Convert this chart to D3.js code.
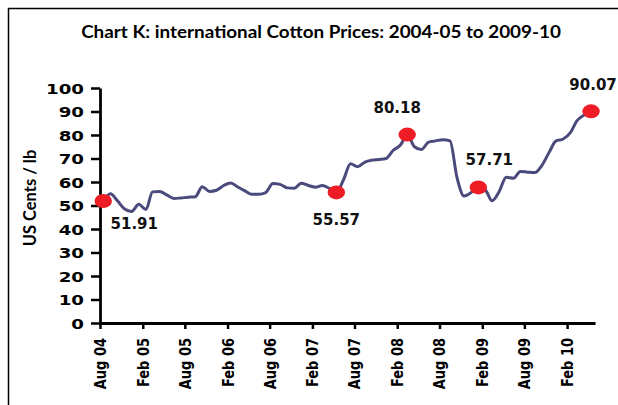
<!DOCTYPE html>
<html>
<head>
<meta charset="utf-8">
<script src="https://cdn.jsdelivr.net/npm/d3@7"></script>
<style>
  html, body { margin: 0; padding: 0; background: #fff; }
  svg { display: block; }
</style>
</head>
<body>
<svg id="chart" width="618" height="405"></svg>
<script>
// ---------------- data ----------------
const title = "Chart K: international Cotton Prices: 2004-05 to 2009-10";
const yAxisTitle = "US Cents / lb";
const startMonth = "Aug 04";   // first monthly observation
const prices = [
  51.91, 55.0, 52.0, 48.5, 47.5, 50.5, 48.3, 55.8, 56.0, 54.5, 53.0, 53.2,
  53.5, 53.7, 58.0, 56.0, 56.5, 58.5, 59.6, 58.0, 56.3, 54.8, 54.8, 55.5,
  59.4, 59.0, 57.5, 57.3, 59.5, 58.5, 57.8, 58.5, 57.3, 55.57, 61.0, 67.8,
  66.5, 68.5, 69.3, 69.6, 70.0, 73.5, 75.7, 80.18, 75.0, 73.8, 77.0, 77.5,
  78.0, 77.5, 62.0, 54.0, 55.5, 57.71, 56.5, 52.0, 56.0, 62.0, 61.6, 64.5,
  64.2, 64.0, 67.0, 72.5, 77.5, 78.3, 81.0, 86.0, 88.5, 90.07
];
const highlighted = [0, 33, 43, 53, 69];          // indices of marked points
const tickLabels = ["Aug 04","Feb 05","Aug 05","Feb 06","Aug 06","Feb 07",
                    "Aug 07","Feb 08","Aug 08","Feb 09","Aug 09","Feb 10"];
const axisEnd = "Jun 10";
const yTicks = [0,10,20,30,40,50,60,70,80,90,100];

// ---------------- layout ----------------
const labelOffsets = [[31, 28], [0, 33], [-10, -22], [11, -22], [2, -21]];
const parse = d3.timeParse("%b %y");
const t0 = parse(startMonth);
const dates = prices.map((_, i) => d3.timeDay.offset(d3.timeMonth.offset(t0, i), 14));

const svg = d3.select("#chart");

// frame
svg.append("rect").attr("x", 8.5).attr("y", 8.5).attr("width", 640).attr("height", 420)
  .attr("fill", "none").attr("stroke", "#000").attr("stroke-width", 1.5);

const x = d3.scaleTime().domain([t0, parse(axisEnd)]).range([100, 595]);
const y = d3.scaleLinear().domain([0, 100]).range([323, 88]);

// title
svg.append("text").attr("transform", "translate(321,38) scale(1.11,1)")
  .attr("text-anchor", "middle")
  .attr("font-family", "Lato, 'Open Sans', sans-serif").attr("font-weight", 700)
  .attr("font-size", 17).attr("fill", "#000").text(title);

// y axis title
svg.append("text").attr("transform", "translate(36,198) rotate(-90)")
  .attr("text-anchor", "middle")
  .attr("font-family", "Lato, 'Open Sans', sans-serif").attr("font-weight", 700)
  .attr("font-size", 16.5).attr("fill", "#000").text(yAxisTitle);

// y axis
const gy = svg.append("g").attr("transform", "translate(100,0)")
  .call(d3.axisLeft(y).tickValues(yTicks).tickSize(9).tickSizeOuter(0).tickPadding(7));
gy.select(".domain").attr("stroke-width", 2.8);
gy.selectAll(".tick line").attr("stroke-width", 2.5);
gy.selectAll(".tick text")
  .attr("font-family", "'DejaVu Sans', sans-serif").attr("font-weight", 700)
  .attr("font-size", 14).attr("fill", "#000")
  .attr("x", null).attr("dy", "0.36em")
  .attr("transform", "translate(-16,0) scale(1.3,1)");

// x axis
const gx = svg.append("g").attr("transform", "translate(0,323)")
  .call(d3.axisBottom(x).tickValues(tickLabels.map(parse)).tickSize(6).tickSizeOuter(0)
        .tickFormat(d3.timeFormat("%b %y")));
gx.select(".domain").attr("stroke-width", 2.8);
gx.selectAll(".tick line").attr("stroke-width", 2.5);
gx.selectAll(".tick text")
  .attr("font-family", "'DejaVu Sans', sans-serif").attr("font-weight", 700)
  .attr("font-size", 13).attr("fill", "#000")
  .attr("y", null).attr("dy", "0.35em")
  .attr("text-anchor", "end")
  .attr("transform", "translate(0,15) rotate(-90) scale(1,1.2)");

// line
const line = d3.line().x((d, i) => x(dates[i])).y(d => y(d)).curve(d3.curveMonotoneX);
svg.append("path").datum(prices).attr("d", line)
  .attr("fill", "none").attr("stroke", "#4b4a7c").attr("stroke-width", 3)
  .attr("stroke-linejoin", "round");

// markers
svg.selectAll("ellipse.mk").data(highlighted).join("ellipse").attr("class", "mk")
  .attr("cx", i => x(dates[i])).attr("cy", i => y(prices[i]))
  .attr("rx", 8.7).attr("ry", 7).attr("fill", "#ee1d25");

// data labels
svg.selectAll("text.dl").data(highlighted).join("text").attr("class", "dl")
  .attr("x", (i, k) => x(dates[i]) + labelOffsets[k][0])
  .attr("y", (i, k) => y(prices[i]) + labelOffsets[k][1])
  .attr("text-anchor", "middle")
  .attr("font-family", "'DejaVu Sans', sans-serif").attr("font-weight", 700)
  .attr("font-size", 15).attr("fill", "#111")
  .text(i => prices[i].toFixed(2));
</script>
</body>
</html>
